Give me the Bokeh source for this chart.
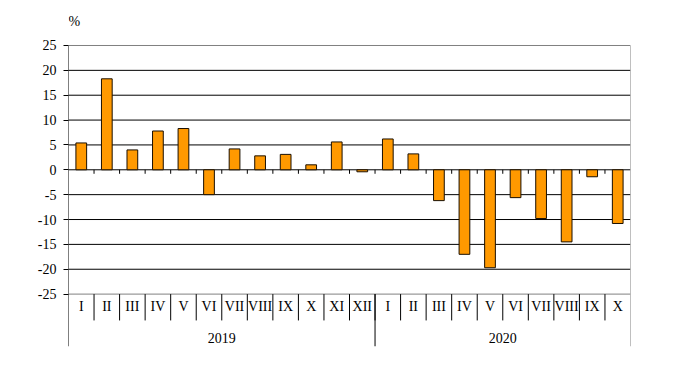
from bokeh.plotting import figure
from bokeh.models import Range1d, FixedTicker, ColumnDataSource
from bokeh.core.properties import value
from bokeh.embed import file_html
from bokeh.resources import INLINE

# ---- data ----
months = ["I", "II", "III", "IV", "V", "VI", "VII", "VIII", "IX", "X", "XI", "XII",
          "I", "II", "III", "IV", "V", "VI", "VII", "VIII", "IX", "X"]
values = [5.4, 18.3, 4.0, 7.8, 8.3, -5.0, 4.2, 2.8, 3.1, 1.0, 5.6, -0.4,
          6.2, 3.2, -6.2, -17.0, -19.7, -5.6, -9.8, -14.5, -1.4, -10.8]
years = ["2019", "2020"]
year_counts = [12, 10]
y_ticks = [-25, -20, -15, -10, -5, 0, 5, 10, 15, 20, 25]
unit_label = "%"

FONT = "Liberation Serif"
n = len(months)
y_top = 25
y_view_top = 34.05
y_bottom = -35.54
cat_row_bottom = -30.3
cat_label_y = -27.5
year_label_y = -33.9
unit_label_y = 29.9

p = figure(width=677, height=363, output_backend="svg", toolbar_location=None, title=None,
           x_range=Range1d(0, n), y_range=Range1d(y_bottom, y_view_top),
           min_border_left=68, min_border_right=47, min_border_top=0, min_border_bottom=17)
p.outline_line_color = None
p.xgrid.visible = False
p.ygrid.visible = False
p.xaxis.visible = False
p.background_fill_color = "white"
p.border_fill_color = "white"

ya = p.yaxis[0]
ya.ticker = FixedTicker(ticks=y_ticks)
ya.major_label_overrides = {t: str(t) for t in y_ticks}
ya.major_label_text_font = FONT
ya.major_label_text_font_size = "14px"
ya.major_label_text_color = "black"
ya.axis_line_color = None
ya.major_tick_line_color = "black"
ya.major_tick_in = 0
ya.major_tick_out = 5
ya.minor_tick_line_color = None
ya.major_label_standoff = 7

# unit label
p.text(x=[0], y=[unit_label_y], text=[unit_label], text_font=value(FONT),
       text_font_size="14px", text_align="left", text_baseline="middle", text_color="black")

# left axis line
p.segment(x0=[0], x1=[0], y0=[y_top], y1=[y_bottom], line_color="black", line_width=1)

# horizontal gridlines
inner = [t for t in y_ticks if abs(t) != 25]
outer = [t for t in y_ticks if abs(t) == 25]
p.segment(x0=[0] * len(inner), x1=[n] * len(inner), y0=inner, y1=inner,
          line_color="black", line_width=1)
p.segment(x0=[0] * len(outer), x1=[n] * len(outer), y0=outer, y1=outer,
          line_color="#808080", line_width=1)

# right border
p.segment(x0=[n], x1=[n], y0=[y_top], y1=[y_bottom], line_color="#808080", line_width=1)

# small ticks under zero line at category boundaries
bounds = list(range(1, n))
p.segment(x0=bounds, x1=bounds, y0=[0] * len(bounds), y1=[-0.8] * len(bounds),
          line_color="black", line_width=1)

# bars
src = ColumnDataSource(dict(x=[i + 0.5 for i in range(n)], top=values))
p.vbar(x="x", top="top", bottom=0, width=0.42, source=src,
       fill_color="#FF9900", line_color="#1a0f00", line_width=1)

# category separators
p.segment(x0=bounds, x1=bounds, y0=[-25] * len(bounds), y1=[cat_row_bottom] * len(bounds),
          line_color="black", line_width=1)

# year separators
yb = []
acc = 0
for c in year_counts[:-1]:
    acc += c
    yb.append(acc)
p.segment(x0=yb, x1=yb, y0=[-25] * len(yb), y1=[y_bottom] * len(yb),
          line_color="black", line_width=1)

# category labels
p.text(x=[i + 0.5 for i in range(n)], y=[cat_label_y] * n, text=months,
       text_font=value(FONT), text_font_size="14px", text_align="center",
       text_baseline="middle", text_color="black")

# year labels
yc = []
acc = 0
for c in year_counts:
    yc.append(acc + c / 2)
    acc += c
p.text(x=yc, y=[year_label_y] * len(yc), text=years,
       text_font=value(FONT), text_font_size="14px", text_align="center",
       text_baseline="middle", text_color="black")

open("out.html", "w").write(file_html(p, INLINE))
